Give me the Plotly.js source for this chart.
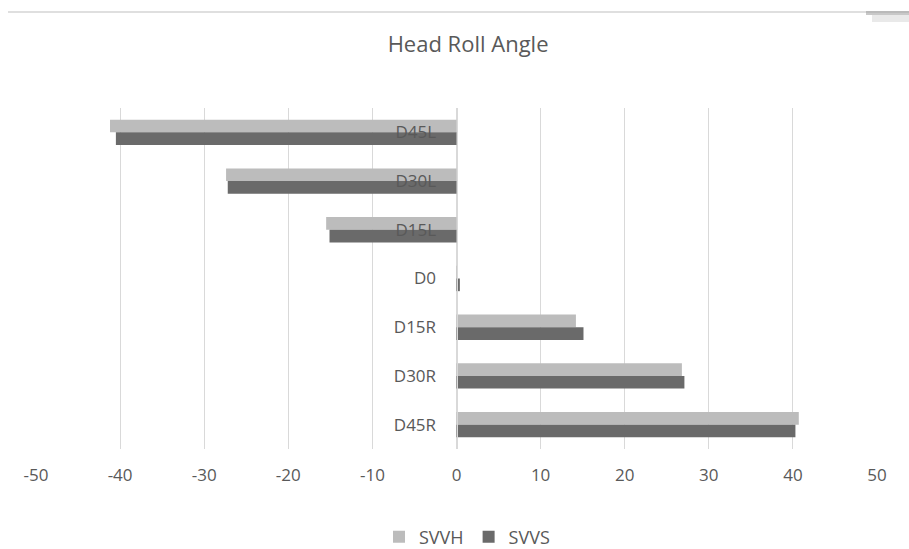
<!DOCTYPE html>
<html>
<head>
<meta charset="utf-8">
<script src="https://cdn.plot.ly/plotly-3.0.1.min.js"></script>
<style>
  html, body { margin: 0; padding: 0; background: #ffffff; }
  #chart { width: 909px; height: 549px; }
</style>
</head>
<body>
<div id="chart"></div>
<script>
// Head roll conditions, top to bottom
const categories = ['D45L', 'D30L', 'D15L', 'D0', 'D15R', 'D30R', 'D45R'];

// Subjective visual vertical, degrees
const svvh = [-41.2, -27.4, -15.5, 0.1, 14.2, 26.8, 40.7];
const svvs = [-40.5, -27.2, -15.1, 0.4, 15.1, 27.1, 40.3];

const xTicks = [-50, -40, -30, -20, -10, 0, 10, 20, 30, 40, 50];

const textColor = '#595959';
const font = 'Open Sans, Liberation Sans, sans-serif';

// Plot area in pixels, used to place the decorative rule above the title
const W = 909, H = 549, L = 36, R = 32, T = 108, B = 100;
const pw = W - L - R, ph = H - T - B;
const px = x => (x - L) / pw;
const py = y => (H - B - y) / ph;

const traces = [
  {
    type: 'bar', orientation: 'h', name: 'SVVH',
    y: categories, x: svvh,
    marker: { color: '#bcbcbc' },
    hoverinfo: 'x+y'
  },
  {
    type: 'bar', orientation: 'h', name: 'SVVS',
    y: categories, x: svvs,
    marker: { color: '#6a6a6a' },
    hoverinfo: 'x+y'
  }
];

const layout = {
  width: W, height: H,
  margin: { l: L, r: R, t: T, b: B, pad: 0, autoexpand: false },
  paper_bgcolor: '#ffffff',
  plot_bgcolor: '#ffffff',
  font: { family: font, color: textColor, size: 17 },
  title: {
    text: 'Head Roll Angle',
    font: { family: font, size: 22, color: textColor },
    x: 467 / W, xanchor: 'center', xref: 'paper',
    y: 1 - 44 / H, yanchor: 'middle', yref: 'container'
  },
  barmode: 'group',
  bargap: 0.48,
  bargroupgap: 0,
  xaxis: {
    range: [-50, 50],
    tickvals: xTicks,
    ticktext: xTicks.map(String),
    showgrid: true, gridcolor: '#d9d9d9', gridwidth: 1,
    zeroline: false, showline: false, ticks: '',
    automargin: false,
    ticklabelstandoff: 14,
    tickfont: { family: font, size: 17, color: textColor },
    fixedrange: true
  },
  yaxis: {
    type: 'category',
    categoryorder: 'array', categoryarray: categories,
    autorange: 'reversed',
    anchor: 'free', position: 0.5, side: 'left',
    showgrid: false, zeroline: false,
    showline: true, linecolor: '#d9d9d9', linewidth: 1,
    ticks: '',
    automargin: false,
    ticklabelstandoff: 17,
    tickfont: { family: font, size: 17, color: textColor },
    fixedrange: true
  },
  legend: {
    orientation: 'h',
    xref: 'container', yref: 'container',
    x: 467 / W, xanchor: 'center',
    y: 1 - 537 / H, yanchor: 'middle',
    font: { family: font, size: 18, color: textColor },
    itemwidth: 30,
    traceorder: 'normal'
  },
  shapes: [
    {
      type: 'line', xref: 'paper', yref: 'paper',
      x0: px(8), x1: px(909), y0: py(12), y1: py(12),
      line: { color: '#d4d4d4', width: 1.5 },
      layer: 'above'
    },
    {
      type: 'rect', xref: 'paper', yref: 'paper',
      x0: px(866), x1: px(909), y0: py(15), y1: py(11),
      fillcolor: '#9a9a9a', opacity: 0.55, line: { width: 0 }
    },
    {
      type: 'rect', xref: 'paper', yref: 'paper',
      x0: px(872), x1: px(909), y0: py(22), y1: py(15),
      fillcolor: '#cfcfcf', opacity: 0.45, line: { width: 0 }
    }
  ],
  showlegend: true
};

Plotly.newPlot('chart', traces, layout, { displayModeBar: false, staticPlot: true });
</script>
</body>
</html>
